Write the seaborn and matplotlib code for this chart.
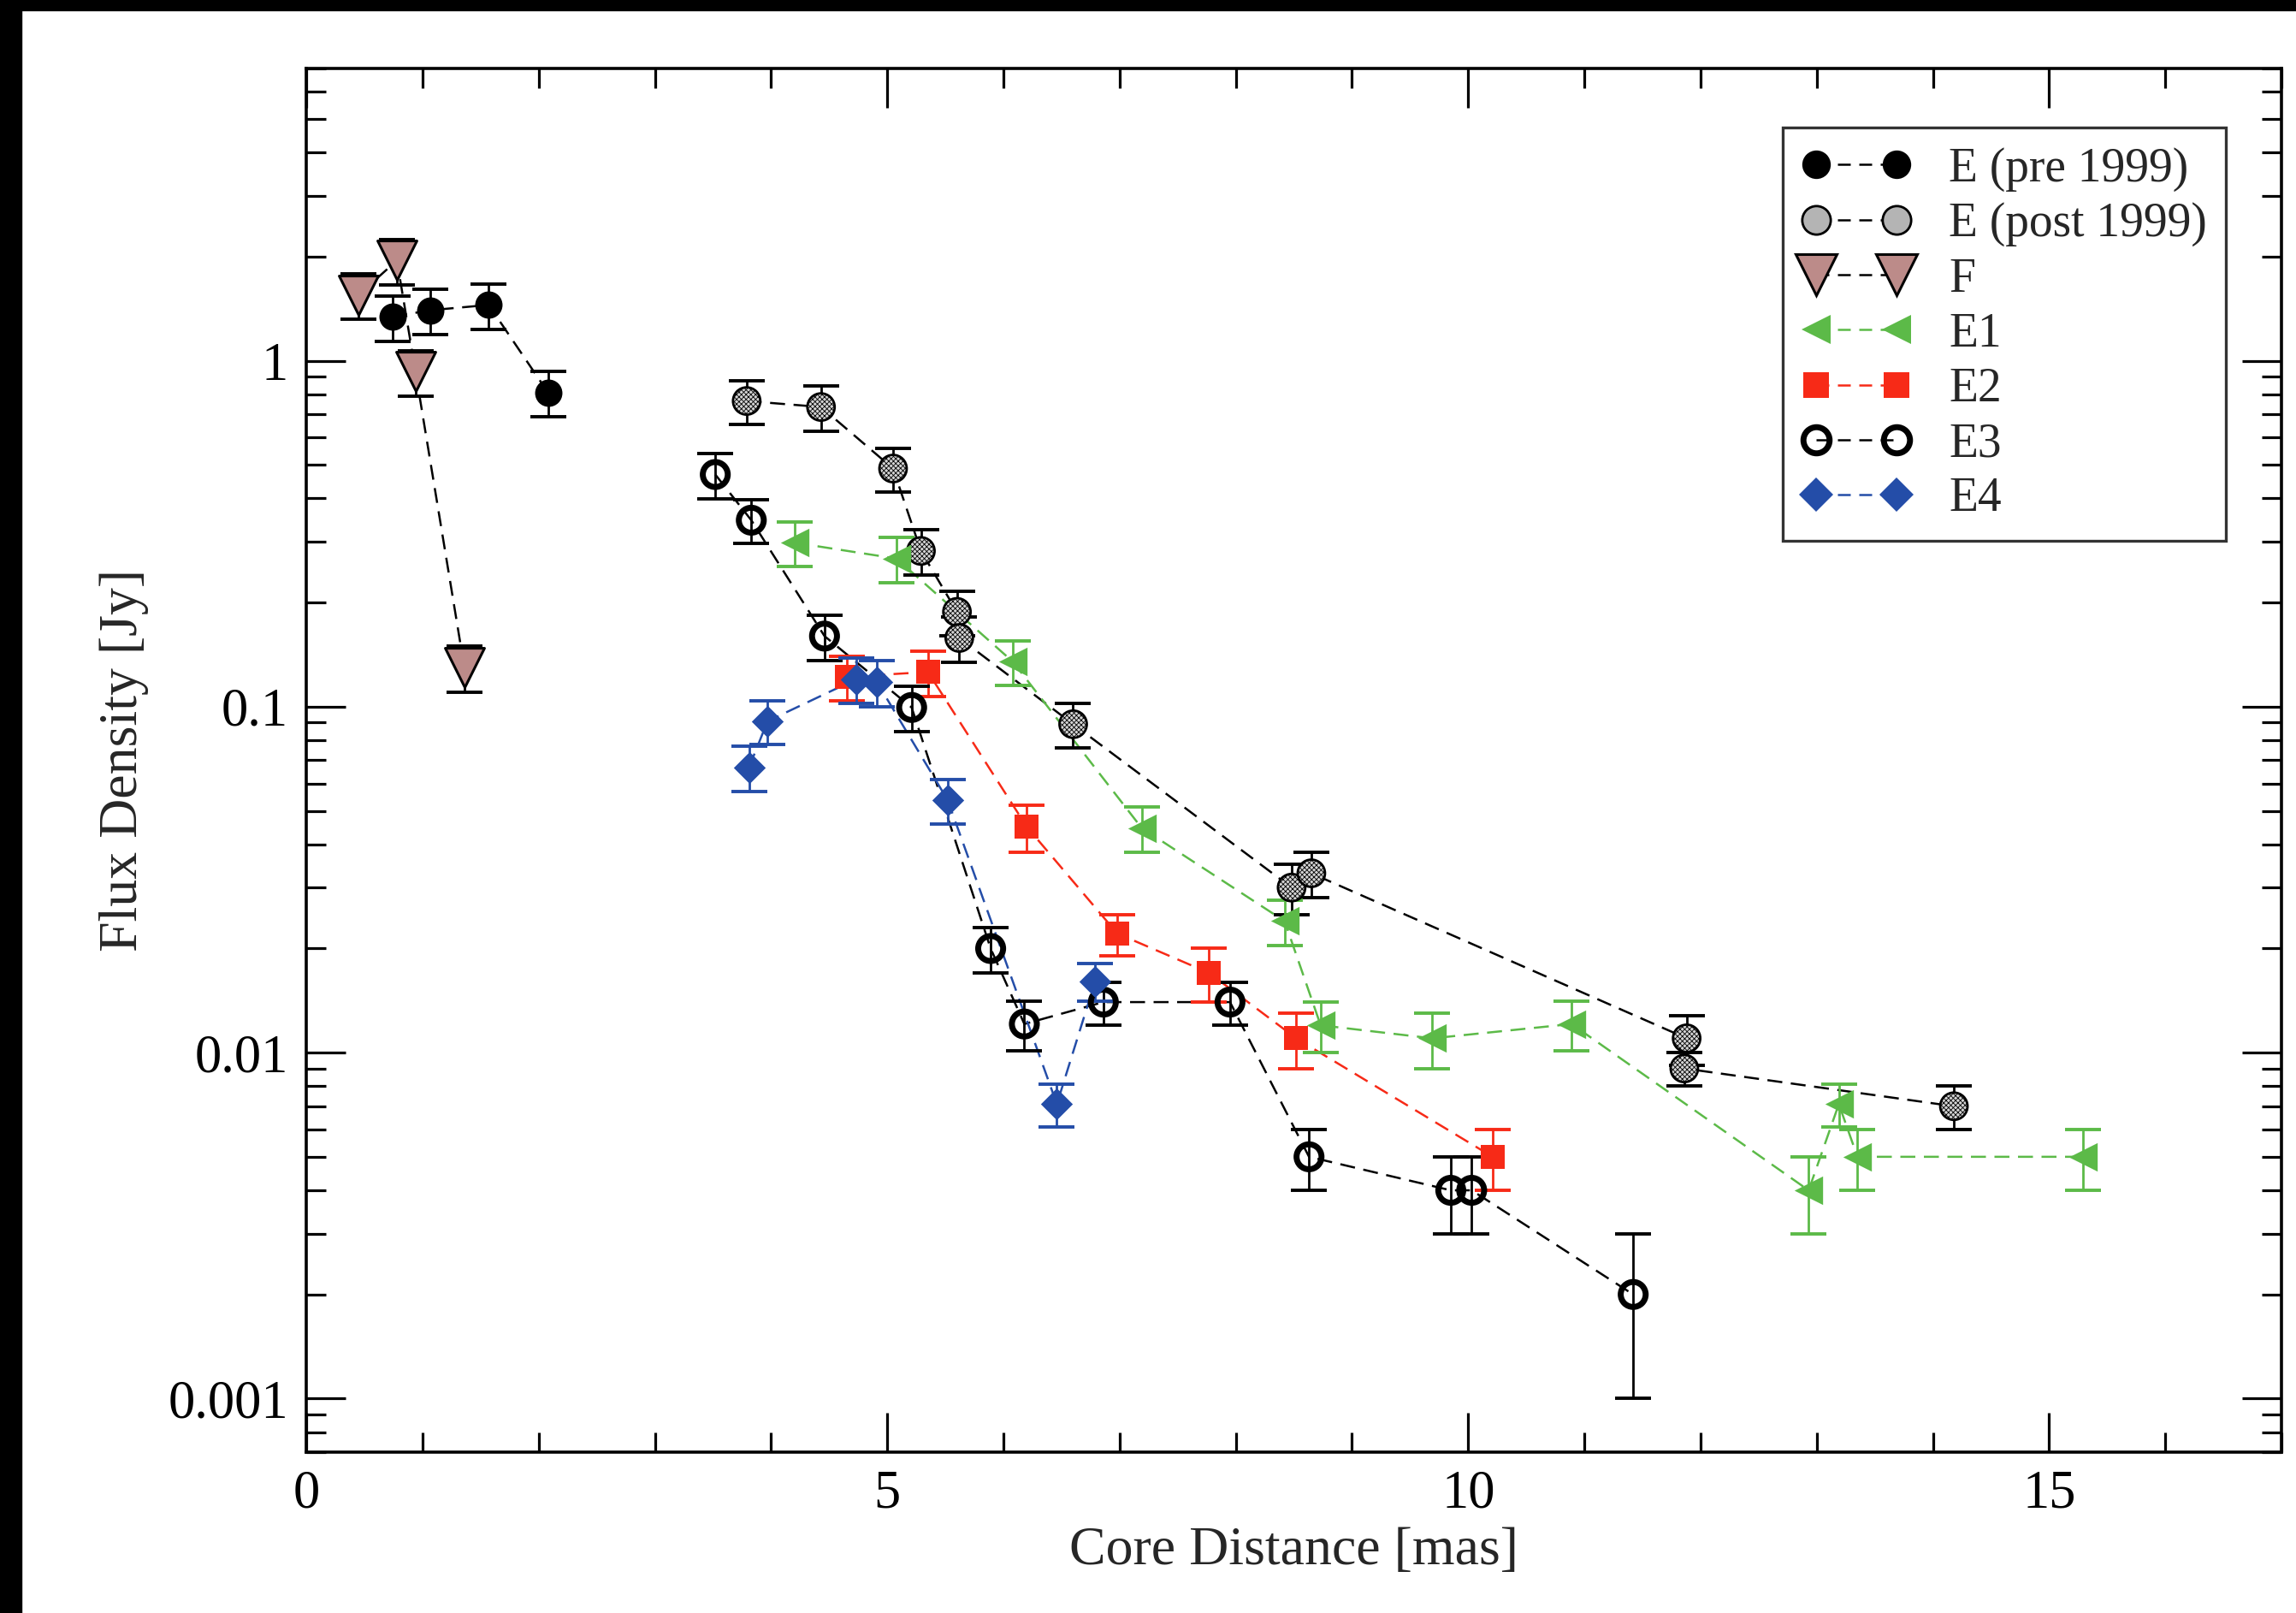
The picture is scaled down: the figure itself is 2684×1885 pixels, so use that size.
import numpy as np
import matplotlib
matplotlib.use("Agg")
import matplotlib.pyplot as plt
from matplotlib.lines import Line2D
from matplotlib.patches import Rectangle
from matplotlib.ticker import FixedLocator, FixedFormatter, MultipleLocator, LogLocator, NullFormatter
import seaborn as sns

# --- data (core distance in mas, flux density in Jy) ---
x_e_pre = [0.74, 1.07, 1.57, 2.08]
y_e_pre = [1.34, 1.40, 1.45, 0.81]
err_e_pre = [0.20, 0.21, 0.22, 0.12]

x_e_post = [3.79, 4.43, 5.05, 5.29, 5.60, 5.62, 6.60, 8.48, 8.65, 11.88, 11.86, 14.18]
y_e_post = [0.765, 0.735, 0.488, 0.282, 0.188, 0.158, 0.089, 0.030, 0.033, 0.011, 0.009, 0.007]
err_e_post = [0.11, 0.11, 0.07, 0.042, 0.028, 0.024, 0.013, 0.005, 0.005, 0.0018, 0.001, 0.001]

x_f = [0.45, 0.78, 0.94, 1.36]
y_f = [1.55, 1.95, 0.93, 0.13]
err_f = [0.23, 0.29, 0.14, 0.02]

x_e1 = [4.20, 5.08, 6.08, 7.19, 8.42, 8.73, 9.69, 10.89, 12.93, 13.19, 13.35, 15.29]
y_e1 = [0.298, 0.268, 0.135, 0.0446, 0.0240, 0.0120, 0.0110, 0.0121, 0.0040, 0.0071, 0.0050, 0.0050]
err_e1 = [0.044, 0.040, 0.020, 0.0067, 0.0036, 0.002, 0.002, 0.002, 0.001, 0.001, 0.001, 0.001]

x_e2 = [4.65, 5.35, 6.20, 6.98, 7.77, 8.52, 10.21]
y_e2 = [0.122, 0.126, 0.045, 0.0221, 0.0170, 0.0110, 0.0050]
err_e2 = [0.018, 0.019, 0.007, 0.003, 0.003, 0.002, 0.001]

x_e3 = [3.52, 3.83, 4.46, 5.21, 5.89, 6.18, 6.86, 7.95, 8.63, 9.85, 10.03, 11.42]
y_e3 = [0.469, 0.346, 0.160, 0.0995, 0.0200, 0.0121, 0.0140, 0.0140, 0.0050, 0.0040, 0.0040, 0.0020]
err_e3 = [0.07, 0.05, 0.024, 0.015, 0.003, 0.002, 0.002, 0.002, 0.001, 0.001, 0.001, 0.001]

x_e4 = [3.81, 3.97, 4.73, 4.91, 5.52, 6.46, 6.79]
y_e4 = [0.0667, 0.0908, 0.120, 0.118, 0.0537, 0.0071, 0.0161]
err_e4 = [0.010, 0.013, 0.018, 0.018, 0.008, 0.001, 0.002]

y_ticks = [0.001, 0.01, 0.1, 1]
y_ticklabels = ["0.001", "0.01", "0.1", "1"]
x_ticks = [0, 5, 10, 15]

GREEN = "#5cba48"
RED = "#f72a17"
BLUE = "#244da8"
ROSY = "#bc8b89"
HATCHED = "#d4d4d4"
DASH = (0, (7, 4))

sns.set_style("ticks")
plt.rcParams["font.family"] = ["Liberation Serif", "DejaVu Serif"]
plt.rcParams["hatch.linewidth"] = 0.6

fig = plt.figure(figsize=(26.84, 18.85), dpi=100)
ax = fig.add_axes([0.1334, 0.0997, 0.8603, 0.8579])

# black strips at the left and top edge of the original image
fig.patches.append(Rectangle((0, 0), 25 / 2684, 1, transform=fig.transFigure, color="black", zorder=10))
fig.patches.append(Rectangle((0, 1 - 12 / 1885), 1, 12 / 1885, transform=fig.transFigure, color="black", zorder=10))

series = [
    # x, y, err, colour, marker, size, face, edge, edgewidth
    (x_e_pre, y_e_pre, err_e_pre, "black", "o", 23, "black", "black", 0),
    (x_e_post, y_e_post, err_e_post, "black", "o", 23, HATCHED, "black", 2),
    (x_f, y_f, err_f, "black", "v", 33, ROSY, "black", 2.2),
    (x_e1, y_e1, err_e1, GREEN, "<", 24, GREEN, GREEN, 0),
    (x_e2, y_e2, err_e2, RED, "s", 20, RED, RED, 0),
    (x_e3, y_e3, err_e3, "black", "o", 21, "none", "black", 5),
    (x_e4, y_e4, err_e4, BLUE, "D", 19, BLUE, BLUE, 0),
]

for x, y, err, col, mk, ms, fc, ec, ew in series:
    sns.lineplot(x=x, y=y, sort=False, estimator=None, color=col, lw=1.8,
                 linestyle=DASH, ax=ax, zorder=2)
    ax.errorbar(x, y, yerr=err, fmt="none", ecolor=col, elinewidth=2.0,
                capsize=15, capthick=2.8, zorder=3)
    extra = {"hatch": "xxxxxx"} if fc == HATCHED else {}
    sns.scatterplot(x=x, y=y, marker=mk, s=ms ** 2, facecolor=fc,
                    edgecolor=ec, linewidth=ew, ax=ax, zorder=4, **extra)

ax.set_yscale("log")
ax.set_xlim(0, 17)
ax.set_ylim(0.0007, 7)

ax.yaxis.set_major_locator(FixedLocator(y_ticks))
ax.yaxis.set_major_formatter(FixedFormatter(y_ticklabels))
ax.yaxis.set_minor_locator(LogLocator(base=10, subs=np.arange(2, 10)))
ax.yaxis.set_minor_formatter(NullFormatter())
ax.xaxis.set_major_locator(FixedLocator(x_ticks))
ax.xaxis.set_minor_locator(MultipleLocator(1))

ax.tick_params(which="both", direction="in", top=True, right=True, width=2.3,
               labelsize=45, pad=15, colors="black")
ax.tick_params(which="major", length=33)
ax.tick_params(which="minor", length=16.5)
for sp in ax.spines.values():
    sp.set_linewidth(2.6)
    sp.set_color("black")

ax.set_xlabel("Core Distance [mas]", fontsize=46, labelpad=6)
ax.set_ylabel("Flux Density [Jy]", fontsize=46, labelpad=16)

handles = []
labels = ["E (pre 1999)", "E (post 1999)", "F", "E1", "E2", "E3", "E4"]
for (x, y, err, col, mk, ms, fc, ec, ew), lab in zip(series, labels):
    h = Line2D([], [], color=col, linestyle=(0, (6, 4)), lw=1.8, marker=mk,
               markersize=ms + 1, markerfacecolor=fc if fc != HATCHED else "#b4b4b4",
               markeredgecolor=ec, markeredgewidth=ew if ew else 0)
    handles.append(h)

leg = ax.legend(handles, labels, loc="upper right", bbox_to_anchor=(0.972, 0.957),
                borderaxespad=0, fontsize=40, numpoints=2, handlelength=2.3,
                handletextpad=0.8, borderpad=0.4, labelspacing=0.22,
                fancybox=False, frameon=True, edgecolor="black")
leg.get_frame().set_linewidth(2.4)

fig.savefig("out.png", dpi=100, facecolor="white")
